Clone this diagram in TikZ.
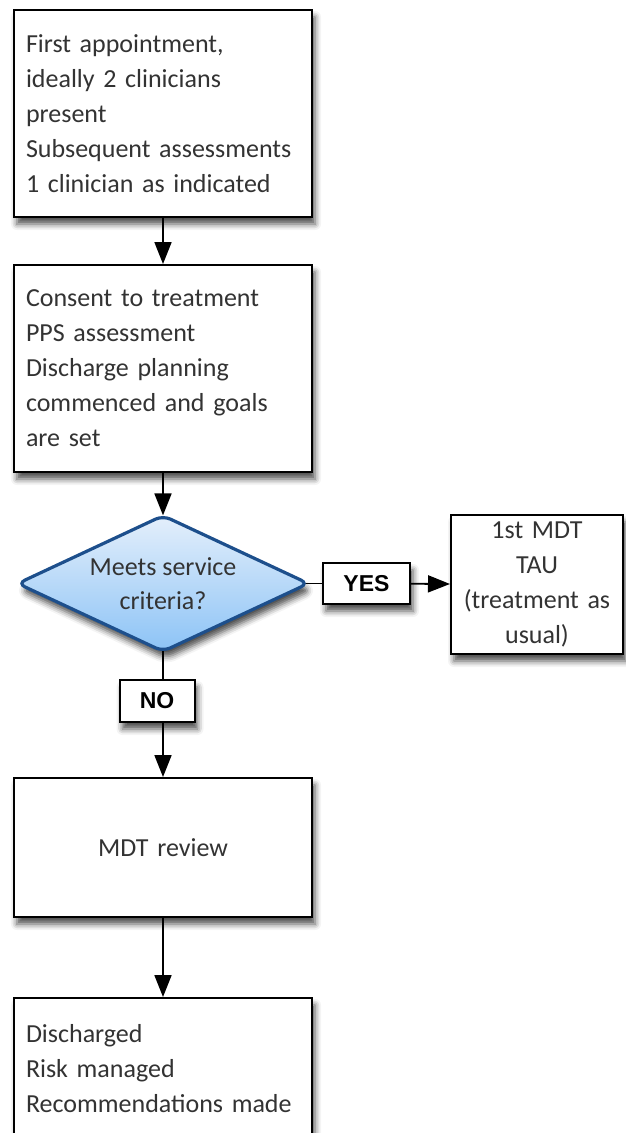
\documentclass[tikz,border=0pt]{standalone}
\usepackage{fontspec}
\setmainfont{Carlito}
\newfontfamily\tagfont{Liberation Sans}
\usetikzlibrary{arrows.meta,shapes.geometric,shadows.blur,backgrounds}
\definecolor{txt}{HTML}{333333}
\definecolor{dborder}{HTML}{1D4F8C}
\definecolor{dtop}{HTML}{E4EFFB}
\definecolor{dbot}{HTML}{8CC3F6}
\newcommand\stepfont{\fontsize{26}{35}\selectfont\hyphenpenalty=10000\relax}

\begin{document}
\begin{tikzpicture}[x=1pt,y=-1pt,
  boxshadow/.style={blur shadow={shadow xshift=3pt,shadow yshift=-7pt,
      shadow blur radius=6pt,shadow opacity=70}},
  stepbox/.style={draw=black,line width=2pt,fill=white,boxshadow,
      inner xsep=12pt,inner ysep=4pt,text width=274pt,align=left,
      font=\stepfont,text=txt},
  tag/.style={draw=black,line width=2pt,fill=white,boxshadow,inner sep=0pt,
      font=\tagfont\bfseries\fontsize{23}{27}\selectfont},
  link/.style={line width=1.8pt,draw=black},
  arrow/.style={link,-{Triangle[length=22pt,width=17pt]}}]

\useasboundingbox (0,0) rectangle (625,1133);

% process boxes
\node[stepbox,minimum height=207pt] (first) at (163,113.5)
  {First appointment,\\ideally 2 clinicians\\present\\Subsequent assessments\\1 clinician as indicated};
\node[stepbox,minimum height=207pt] (consent) at (163,368.5)
  {Consent to treatment\\PPS assessment\\Discharge planning\\commenced and goals\\are set};

% decision
\node[diamond,draw=dborder,line width=3.2pt,top color=dtop,bottom color=dbot,
      rounded corners=8pt,minimum width=292pt,minimum height=137pt,inner sep=0pt,
      boxshadow] (crit) at (163,583.5) {};
\node[font=\fontsize{26}{34}\selectfont,text=txt,align=center] (critlabel)
  at (crit.center) {Meets service\\criteria?};

% branch labels
\node[tag,minimum width=87pt,minimum height=41pt] (yes) at (366.5,583.5) {YES};
\node[tag,minimum width=75pt,minimum height=42pt] (no) at (157,701) {NO};

% outcomes
\node[stepbox,align=center,text width=150pt,inner xsep=11pt,inner ysep=2pt,
      minimum height=139pt] (tau) at (537,584.5)
  {1st MDT\\TAU\\(treatment as\\usual)};
\node[stepbox,align=center,minimum height=139pt] (mdt) at (163,847.5) {MDT review};
\node[stepbox,minimum height=141pt] (out) at (163,1068.5)
  {Discharged\\Risk managed\\Recommendations made};

% plain joins, kept behind the shapes
\begin{scope}[on background layer]
  \draw[link] (crit.center) -- (yes.center);
  \draw[link] (crit.center) -- (crit.center |- no.center);
\end{scope}

% arrows
\draw[arrow] (first) -- (consent);
\draw[arrow,shorten >=-2pt] (consent) -- (crit.north);
\draw[arrow] (yes) -- (tau);
\draw[arrow] (crit.center |- no.south) -- (mdt.north);
\draw[arrow] (mdt) -- (out);
\end{tikzpicture}
\end{document}
